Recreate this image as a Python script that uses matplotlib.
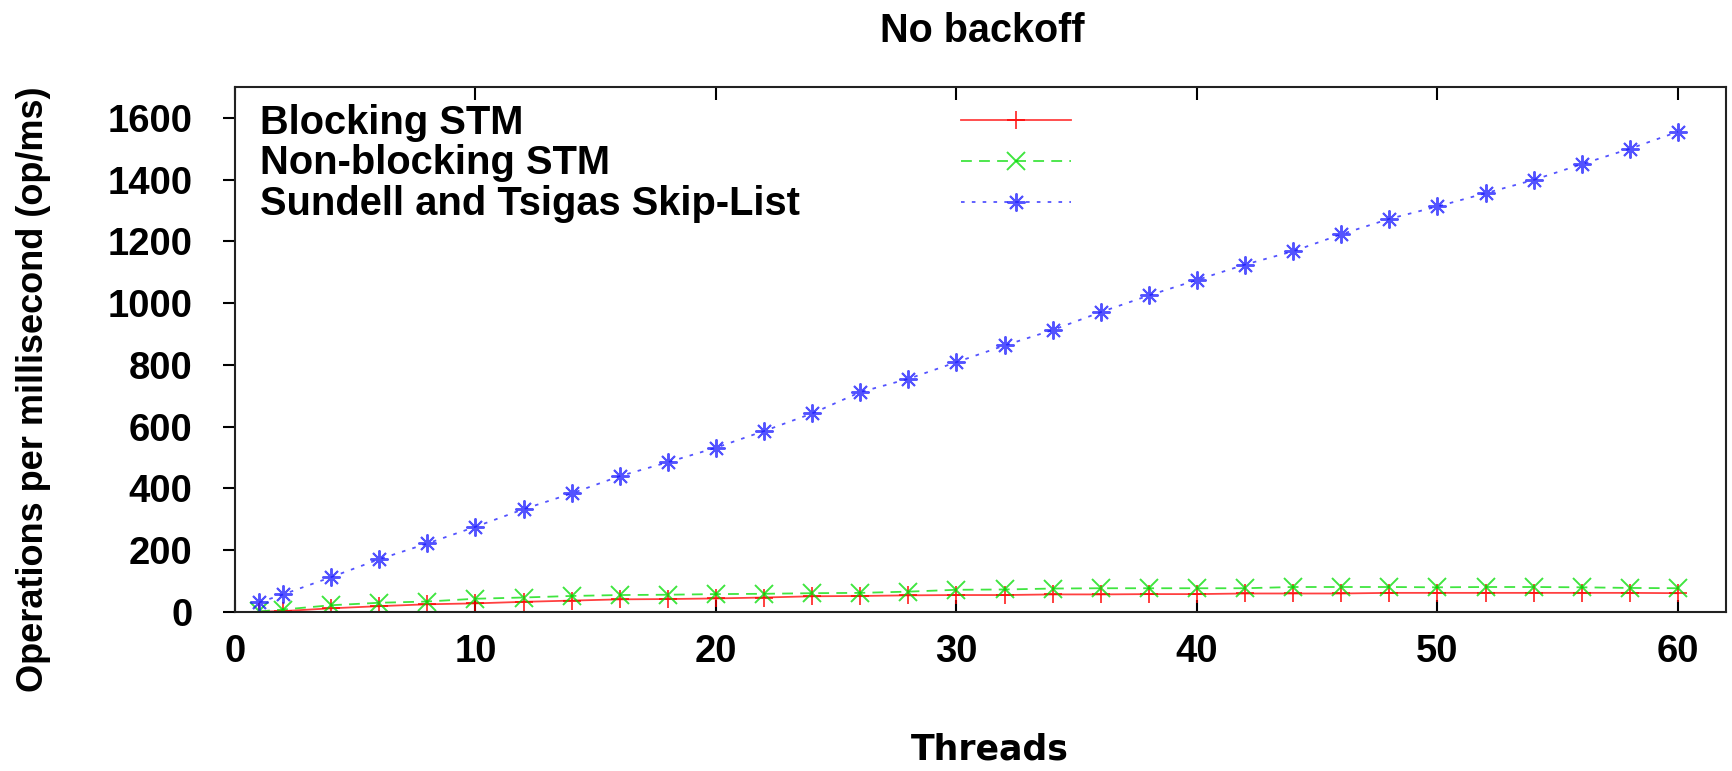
import matplotlib
matplotlib.use("Agg")
import matplotlib.pyplot as plt
from matplotlib.lines import Line2D

# Thread counts (x) and throughput in operations per millisecond.
threads = [1, 2, 4, 6, 8, 10, 12, 14, 16, 18, 20, 22, 24, 26, 28, 30,
           32, 34, 36, 38, 40, 42, 44, 46, 48, 50, 52, 54, 56, 58, 60]
blocking = [1, 3, 12, 19, 25, 28, 33, 37, 41, 42, 44, 47, 51, 52, 54, 55,
            55, 57, 57, 58, 58, 60, 60, 60, 62, 62, 62, 62, 62, 62, 61]
nonblocking = [2, 8, 22, 30, 34, 43, 47, 52, 55, 56, 58, 59, 61, 62, 66, 72,
               73, 76, 77, 77, 77, 77, 81, 81, 81, 80, 81, 81, 80, 78, 77]
sundell = [31, 57, 113, 171, 222, 276, 333, 384, 440, 485, 532, 586, 643,
           712, 755, 809, 863, 913, 971, 1025, 1075, 1125, 1168, 1223, 1273,
           1313, 1356, 1399, 1450, 1500, 1555]

labels = ["Blocking STM", "Non-blocking STM", "Sundell and Tsigas Skip-List"]
xticks = [0, 10, 20, 30, 40, 50, 60]
yticks = [0, 200, 400, 600, 800, 1000, 1200, 1400, 1600]

BOLD = ["Liberation Sans", "DejaVu Sans"]

fig = plt.figure(figsize=(17.33, 7.71), dpi=100)
ax = fig.add_axes([0.1356, 0.2062, 0.8604, 0.6810])

styles = [
    dict(color="#ff0000", marker="+", dashes=None),
    dict(color="#00dd00", marker="x", dashes=(6, 4)),
    dict(color="#1a1aff", marker=(8, 2, 0), dashes=(2, 4)),
]
series = [blocking, nonblocking, sundell]

handles = []
for ys, st in zip(series, styles):
    kw = dict(color=st["color"], lw=1.3, marker=st["marker"], ms=13,
              mew=1.4, alpha=0.75)
    if st["dashes"]:
        kw["dashes"] = st["dashes"]
    else:
        kw["ls"] = "-"
    ax.plot(threads, ys, **kw)
    handles.append(kw)

ax.set_xlim(0, 62)
ax.set_ylim(0, 1700)
ax.set_xticks(xticks)
ax.set_yticks(yticks)
ax.tick_params(axis="x", direction="in", top=True, length=9, width=1.5,
               pad=16, labelsize=27.5)
ax.tick_params(axis="y", direction="out", right=False, length=8.6, width=1.5,
               pad=22, labelsize=27.5)
for lab in ax.get_xticklabels() + ax.get_yticklabels():
    lab.set_family(BOLD)
    lab.set_fontweight("bold")
for sp in ax.spines.values():
    sp.set_linewidth(1.5)
    sp.set_color("#222222")

# gnuplot style key: text on the left, samples on the right
for i, (lab, kw) in enumerate(zip(labels, handles)):
    base = 0.9105 - i * 0.0772
    y = base + 0.0257
    ax.text(0.0165, base, lab, transform=ax.transAxes, ha="left",
            va="baseline", fontsize=28.7, fontweight="bold", family=BOLD)
    ln = Line2D([0.487, 0.561], [y, y], transform=ax.transAxes, **kw)
    ln.set_markevery([])
    ax.add_line(ln)
    ax.add_line(Line2D([0.524], [y], transform=ax.transAxes, color=kw["color"],
                       ls="none", marker=kw["marker"], ms=13, mew=1.4,
                       alpha=0.75))

ax.text(0.501, 1.0863, "No backoff", transform=ax.transAxes, ha="center",
        va="baseline", fontsize=28.5, fontweight="bold", family=BOLD)
ax.set_xlabel("Threads", fontsize=25, fontweight="bold",
              family=["DejaVu Sans"])
ax.xaxis.set_label_coords(0.506, -0.261)
ax.xaxis.label.set_va("center")
ax.set_ylabel("Operations per millisecond (op/ms)", fontsize=26,
              fontweight="bold", family=BOLD)
ax.yaxis.set_label_coords(-0.135, 0.425)
ax.yaxis.label.set_va("center")

fig.savefig("out.png", dpi=100)
